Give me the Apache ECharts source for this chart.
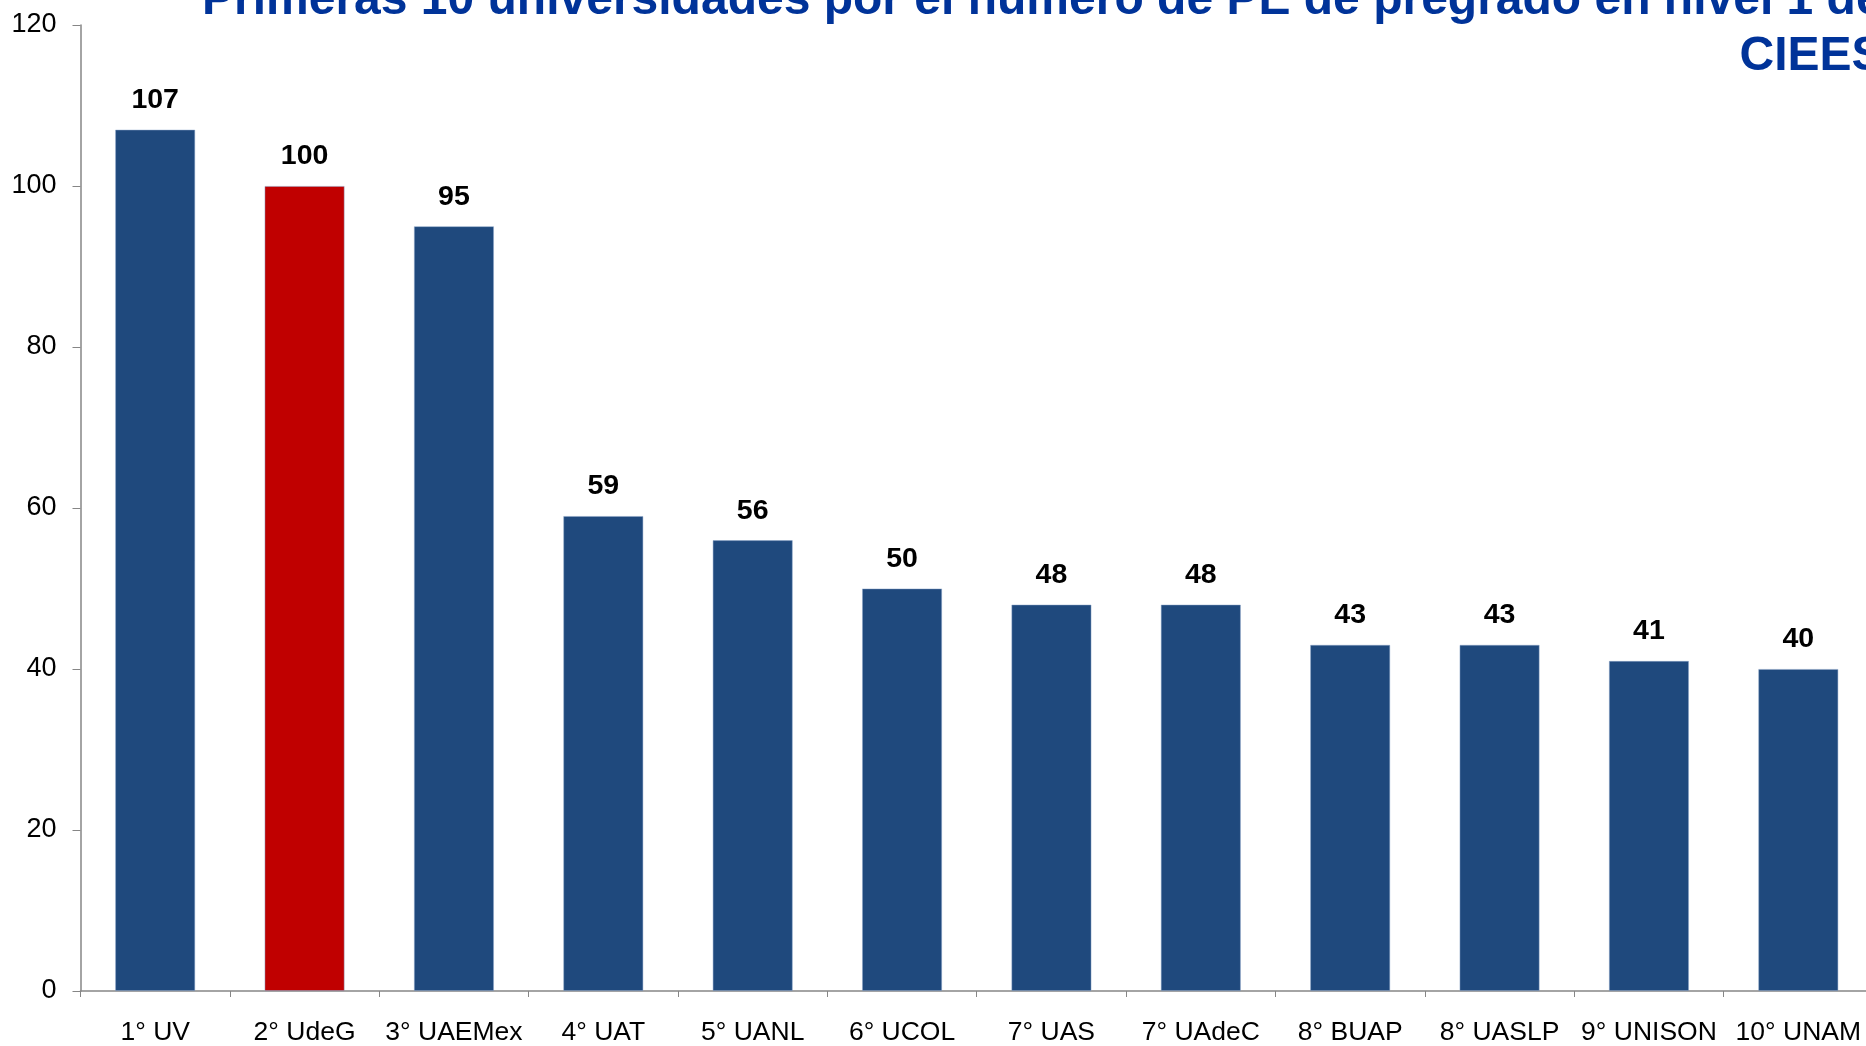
<!DOCTYPE html>
<html>
<head>
<meta charset="utf-8">
<script src="https://cdn.jsdelivr.net/npm/echarts@6/dist/echarts.min.js"></script>
<style>
html,body{margin:0;padding:0;background:#fff;overflow:hidden;width:1866px;height:1046px;}
#chart{width:1873px;height:1046px;}
</style>
</head>
<body>
<div id="chart"></div>
<script>
// ---- data ----
const categories = ['1° UV','2° UdeG','3° UAEMex','4° UAT','5° UANL','6° UCOL','7° UAS','7° UAdeC','8° BUAP','8° UASLP','9° UNISON','10° UNAM'];
const values = [107, 100, 95, 59, 56, 50, 48, 48, 43, 43, 41, 40];
const highlighted = ['2° UdeG'];
const yMin = 0, yMax = 120, yInterval = 20;
const titleLine1 = 'Primeras 10 universidades por el número de PE de pregrado en nivel 1 de';
const titleLine2 = 'CIEES';

// ---- style ----
const FONT = '"Liberation Sans", Arial, Helvetica, sans-serif';
const BLUE = '#1F497D';
const RED = '#C00000';
const TITLE_BLUE = '#003399';
const AXIS_GREY = '#868686';

const chart = echarts.init(document.getElementById('chart'), null, {renderer: 'canvas'});

const seriesData = categories.map((c, i) => ({
  value: values[i],
  itemStyle: { color: highlighted.includes(c) ? RED : BLUE }
}));

chart.setOption({
  animation: false,
  backgroundColor: '#ffffff',
  textStyle: { fontFamily: FONT },
  grid: { left: 80.5, top: 25, bottom: 53, right: 0, containLabel: false },
  xAxis: {
    type: 'category',
    data: categories,
    boundaryGap: true,
    axisLine: { show: true, lineStyle: { color: AXIS_GREY, width: 1.5 } },
    axisTick: { show: true, alignWithLabel: false, length: 6, lineStyle: { color: AXIS_GREY, width: 1 } },
    axisLabel: { color: '#000', fontSize: 26.5, fontFamily: FONT, margin: 28, interval: 0 },
    splitLine: { show: false }
  },
  yAxis: {
    type: 'value',
    min: yMin, max: yMax, interval: yInterval,
    axisLine: { show: true, lineStyle: { color: AXIS_GREY, width: 1.5 } },
    axisTick: { show: true, length: 8, lineStyle: { color: AXIS_GREY, width: 1 } },
    axisLabel: { color: '#000', fontSize: 27, fontFamily: FONT, margin: 24 },
    splitLine: { show: false }
  },
  series: [{
    type: 'bar',
    data: seriesData,
    barWidth: 80,
    itemStyle: { borderColor: 'rgba(140,165,200,0.6)', borderWidth: 0.8 },
    label: {
      show: true,
      position: 'top',
      distance: 15,
      color: '#000',
      fontSize: 28.5,
      fontWeight: 'bold',
      fontFamily: FONT
    }
  }],
  graphic: [
    {
      type: 'text',
      left: 202, top: -23,
      style: {
        text: titleLine1,
        font: 'bold 48px ' + FONT,
        fill: TITLE_BLUE
      }
    },
    {
      type: 'text',
      left: 1739.5, top: 33,
      style: {
        text: titleLine2,
        font: 'bold 48px ' + FONT,
        fill: TITLE_BLUE
      }
    }
  ]
});
</script>
</body>
</html>
